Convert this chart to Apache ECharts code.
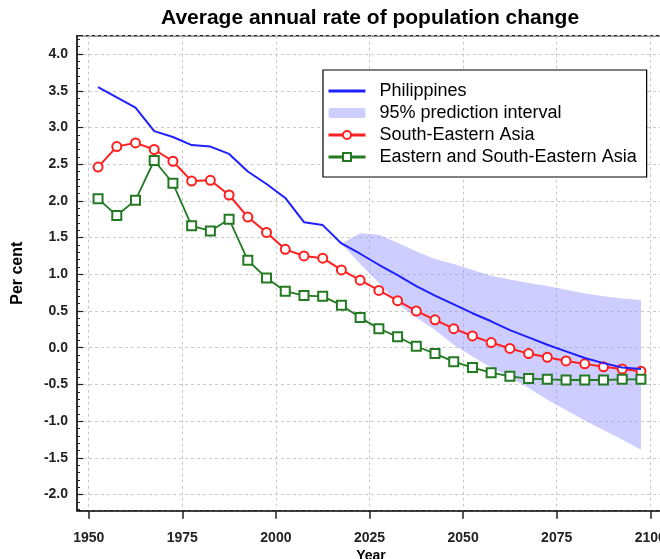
<!DOCTYPE html>
<html><head><meta charset="utf-8">
<script src="https://cdn.jsdelivr.net/npm/echarts@6/dist/echarts.min.js"></script>
<style>html,body{margin:0;padding:0;background:#fff}#c{width:660px;height:559px}</style>
</head><body><div id="c"></div>
<script>
const years = [1952.5,1957.5,1962.5,1967.5,1972.5,1977.5,1982.5,1987.5,1992.5,1997.5,
  2002.5,2007.5,2012.5,2017.5,2022.5,2027.5,2032.5,2037.5,2042.5,2047.5,
  2052.5,2057.5,2062.5,2067.5,2072.5,2077.5,2082.5,2087.5,2092.5,2097.5];
const philippines = [3.55,3.41,3.27,2.95,2.87,2.76,2.74,2.64,2.40,2.23,
  2.04,1.71,1.67,1.42,1.28,1.13,0.99,0.84,0.71,0.59,
  0.47,0.36,0.24,0.14,0.04,-0.05,-0.14,-0.21,-0.27,-0.29];
const southEasternAsia = [2.46,2.74,2.79,2.70,2.54,2.27,2.28,2.08,1.78,1.57,
  1.34,1.25,1.22,1.06,0.92,0.78,0.64,0.50,0.38,0.26,
  0.16,0.07,-0.01,-0.08,-0.13,-0.18,-0.22,-0.26,-0.29,-0.32];
const easternSouthEasternAsia = [2.03,1.80,2.01,2.55,2.24,1.66,1.59,1.75,1.19,0.95,
  0.77,0.71,0.70,0.58,0.41,0.26,0.15,0.02,-0.08,-0.19,
  -0.27,-0.34,-0.39,-0.42,-0.43,-0.44,-0.44,-0.44,-0.43,-0.43];
const bandYears = [2017.5,2022.5,2027.5,2032.5,2037.5,2042.5,2047.5,2052.5,2057.5,
  2062.5,2067.5,2072.5,2077.5,2082.5,2087.5,2092.5,2097.5];
const bandUpper = [1.42,1.56,1.54,1.43,1.31,1.21,1.14,1.06,0.98,
  0.93,0.88,0.84,0.79,0.74,0.70,0.67,0.65];
const bandLower = [1.42,1.14,0.88,0.60,0.41,0.24,0.04,-0.12,-0.27,
  -0.40,-0.55,-0.71,-0.85,-0.99,-1.12,-1.25,-1.39];
const xTicks = [1950,1975,2000,2025,2050,2075,2100];

const FONT = '"Liberation Sans", Arial, Helvetica, sans-serif';
const BLUE = '#1f1fff', RED = '#ff1f1f', GREEN = '#237a23', BAND = 'rgba(150,150,255,0.48)';
const AX = '#222';
const Y_MIN = -2.22, Y_MAX = 4.25;

const chart = echarts.init(document.getElementById('c'), null, {renderer: 'canvas'});
const bandData = bandYears.map((y, i) => [y, bandLower[i], bandUpper[i]]);

chart.setOption({
  animation: false,
  backgroundColor: '#fff',
  title: {
    text: 'Average annual rate of population change',
    left: 161, top: 8, padding: 0,
    textStyle: {fontFamily: FONT, fontSize: 21, fontWeight: 'bold', color: '#000'}
  },
  legend: {
    orient: 'vertical', left: 323, top: 70,
    padding: [12, 10, 11, 4],
    itemWidth: 37, itemHeight: 10, itemGap: 4,
    borderColor: '#000', borderWidth: 1.2, backgroundColor: '#fff',
    textStyle: {fontFamily: FONT, fontSize: 18, color: '#000', lineHeight: 18, padding: [0, 0, 0, 9]},
    data: [
      {name: 'Philippines', itemStyle: {opacity: 0}, lineStyle: {width: 3}},
      {name: '95% prediction interval', icon: 'roundRect'},
      {name: 'South-Eastern Asia', lineStyle: {width: 3}},
      {name: 'Eastern and South-Eastern Asia', lineStyle: {width: 3}}
    ]
  },
  grid: {left: 77, top: 35.7, right: -5, bottom: 48.3, outerBoundsMode: 'none', containLabel: false,
    show: true, borderColor: AX, borderWidth: 1.5, backgroundColor: 'transparent'},
  xAxis: {
    type: 'value', min: 1946.875, max: 2103.93, minInterval: 25, maxInterval: 25,
    name: 'Year', nameLocation: 'middle', nameGap: 36,
    nameTextStyle: {fontFamily: FONT, fontSize: 14, fontWeight: 'bold', color: '#000'},
    axisLine: {show: true, onZero: false, lineStyle: {color: AX, width: 1.5}},
    axisTick: {show: true, inside: false, length: 8, customValues: xTicks, lineStyle: {color: AX, width: 1.5}},
    axisLabel: {customValues: xTicks, margin: 20, fontFamily: FONT, fontSize: 14, fontWeight: 'bold', color: '#222',
      formatter: v => String(Math.round(v))},
    splitLine: {show: true, lineStyle: {color: '#c8c8c8', type: [3, 3], width: 1}}
  },
  yAxis: [{
    type: 'value', min: Y_MIN, max: Y_MAX, minInterval: 0.5, maxInterval: 0.5, position: 'left', offset: 0,
    name: 'Per cent', nameLocation: 'middle', nameGap: 51,
    nameTextStyle: {fontFamily: FONT, fontSize: 16, fontWeight: 'bold', color: '#000'},
    axisLine: {show: true, onZero: false, lineStyle: {color: AX, width: 1.5}},
    axisTick: {show: true, inside: true, length: 6, lineStyle: {color: AX, width: 1.2}},
    minorTick: {show: false},
    axisLabel: {showMinLabel: false, showMaxLabel: false, margin: 9, fontFamily: FONT, fontSize: 14, fontWeight: 'bold', color: '#222',
      formatter: v => v.toFixed(1)},
    splitLine: {show: true, lineStyle: {color: '#c8c8c8', type: [3, 3], width: 1}},
    minorSplitLine: {show: false}
  }, {
    type: 'value', min: Y_MIN, max: Y_MAX, minInterval: 0.1, maxInterval: 0.1, position: 'left', offset: 0,
    axisLine: {show: false, onZero: false},
    axisTick: {show: true, inside: true, length: 3, lineStyle: {color: AX, width: 1}},
    axisLabel: {show: false},
    splitLine: {show: false}
  }],
  series: [
    {
      name: '95% prediction interval', type: 'custom', z: 1,
      itemStyle: {color: BAND},
      data: bandData,
      encode: {x: 0, y: [1, 2]},
      renderItem: function (params, api) {
        if (params.dataIndex !== 0) return;
        const pts = [];
        for (let i = 0; i < bandYears.length; i++) pts.push(api.coord([bandYears[i], bandUpper[i]]));
        for (let i = bandYears.length - 1; i >= 0; i--) pts.push(api.coord([bandYears[i], bandLower[i]]));
        return {type: 'polygon', shape: {points: pts}, style: {fill: BAND}};
      }
    },
    {
      name: 'Philippines', type: 'line', z: 4, symbol: 'none', showSymbol: false,
      color: BLUE, lineStyle: {color: BLUE, width: 2},
      data: years.map((y, i) => [y, philippines[i]])
    },
    {
      name: 'South-Eastern Asia', type: 'line', z: 3, symbol: 'emptyCircle', symbolSize: 9,
      color: RED, lineStyle: {color: RED, width: 2}, itemStyle: {color: RED, borderColor: RED, borderWidth: 1.5},
      data: years.map((y, i) => [y, southEasternAsia[i]])
    },
    {
      name: 'Eastern and South-Eastern Asia', type: 'line', z: 3, symbol: 'emptyRect', symbolSize: 9,
      color: GREEN, lineStyle: {color: GREEN, width: 1.8}, itemStyle: {color: GREEN, borderColor: GREEN, borderWidth: 1.5},
      data: years.map((y, i) => [y, easternSouthEasternAsia[i]])
    }
  ]
});
</script></body></html>
